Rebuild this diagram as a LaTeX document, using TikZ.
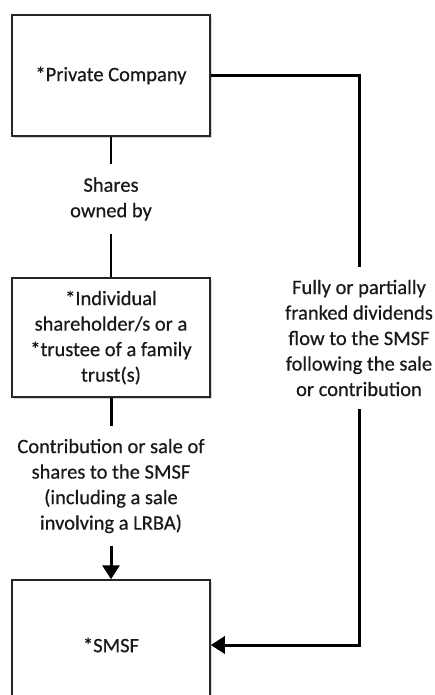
\documentclass[tikz,border=0pt]{standalone}
\usepackage{fontspec}
\setmainfont{Carlito}[FakeBold=0.5]
\usetikzlibrary{arrows.meta,shadows}

\begin{document}
\begin{tikzpicture}[x=1pt,y=-1pt,
                    font=\fontsize{20.5}{25.5}\selectfont,text=black!90]
  \tikzstyle{entity}=[draw=black!85,line width=1.5pt,fill=white,align=center,
                      minimum width=198pt,
                      drop shadow={shadow xshift=2pt,shadow yshift=-2pt,opacity=.35}]
  \tikzstyle{note}=[align=center,inner xsep=0pt,inner ysep=13pt]
  \tikzstyle{link}=[line width=3pt,line join=miter]
  \tikzstyle{flow}=[link,-{Triangle[length=14pt,width=17pt]}]

  \useasboundingbox (0,0) rectangle (435,695);
  \clip (0,0) rectangle (435,695);

  \node[entity,minimum height=121pt] (company)   at (111,75.5)  {*Private Company};
  \node[note]                        (owned)     at (111,199)   {Shares\\owned by};
  \node[entity,minimum height=119pt] (holder)    at (111,337.5) {*Individual\\shareholder/s or a\\*trustee of a family\\trust(s)};
  \node[note]                        (transfer)  at (111,486)   {Contribution or sale of\\shares to the SMSF\\(including a sale\\involving a LRBA)};
  \node[entity,minimum height=130pt] (smsf)      at (111,645)   {*SMSF};
  \node[note]                        (dividends) at (359,338)   {Fully or partially\\franked dividends\\flow to the SMSF\\following the sale\\or contribution};

  \draw[line width=2.5pt] (company) -- (owned) -- (holder);
  \draw[link] (holder) -- (transfer);
  \draw[flow] (transfer) -- (smsf);
  \draw[link] (company.east) -| (dividends.north);
  \draw[flow] (dividends.south) |- (smsf.east);
\end{tikzpicture}
\end{document}
